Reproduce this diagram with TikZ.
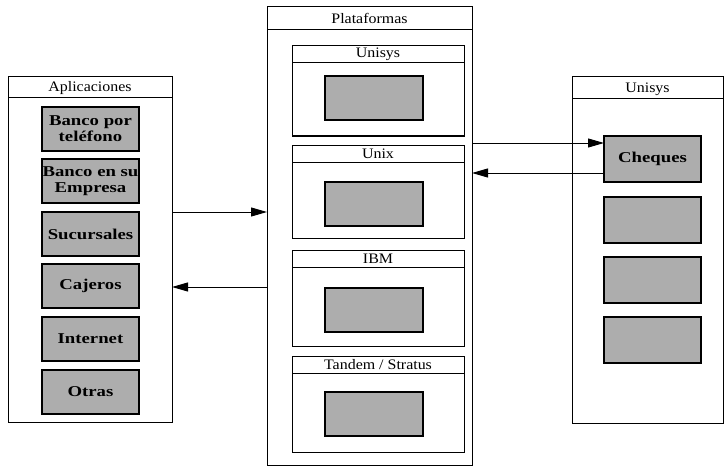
\documentclass[tikz,border=0pt]{standalone}
\usepackage{fontspec}
\setmainfont{Liberation Serif}[FakeStretch=1.1]
\newfontfamily\grayfont{Liberation Serif}[FakeStretch=1.25]
\usetikzlibrary{arrows.meta}
\begin{document}
\begin{tikzpicture}[x=1pt,y=-1pt,
  panel/.style={draw, line width=0.8pt, anchor=north west, inner sep=0pt, outer sep=0pt},
  innerbox/.style={draw, line width=1pt, anchor=north west, inner sep=0pt, outer sep=0pt},
  hdr/.style={line width=1pt},
  graybox/.style={draw, line width=1.5pt, fill=black!32, anchor=north west, inner sep=0pt, outer sep=0pt,
    align=center, font=\grayfont\bfseries\fontsize{15}{16}\selectfont},
  ttl/.style={font=\fontsize{14.5}{16}\selectfont, inner sep=0pt},
  arr/.style={line width=1pt, -{Triangle[length=16pt,width=9pt]}}]
\useasboundingbox (0,0) rectangle (725,468);

% Aplicaciones
\node[panel, minimum width=164pt, minimum height=346pt] (apl) at (8,76) {};
\draw[hdr] ([yshift=-22pt]apl.north west) -- ([yshift=-22pt]apl.north east);
\node[ttl] (aplT) at ([yshift=-12.5pt]apl.north) {Aplicaciones};
\node[graybox, minimum width=97pt, minimum height=44pt] (a1) at (42,107) {Banco por\\teléfono};
\node[graybox, minimum width=97pt, minimum height=44pt] (a2) at (42,159) {Banco en su\\Empresa};
\node[graybox, minimum width=97pt, minimum height=44pt] (a3) at (42,212) {Sucursales};
\node[graybox, minimum width=97pt, minimum height=44pt] (a4) at (42,264) {Cajeros};
\node[graybox, minimum width=97pt, minimum height=44pt] (a5) at (42,317) {Internet};
\node[graybox, minimum width=97pt, minimum height=44pt] (a6) at (42,370) {Otras};

% Plataformas
\node[panel, minimum width=205pt, minimum height=459pt] (plat) at (267,6) {};
\draw[hdr] ([yshift=-24pt]plat.north west) -- ([yshift=-24pt]plat.north east);
\node[ttl] (platT) at ([yshift=-12pt]plat.north) {Plataformas};

\node[innerbox, minimum width=172pt, minimum height=90pt] (pu) at (292,46) {};
\draw[hdr] ([yshift=-17pt]pu.north west) -- ([yshift=-17pt]pu.north east);
\node[ttl] (puT) at ([yshift=-8.5pt]pu.north) {Unisys};
\node[graybox, minimum width=98pt, minimum height=44pt] (pug) at (325,76) {};

\node[innerbox, minimum width=172pt, minimum height=93pt] (px) at (292,145) {};
\draw[hdr] ([yshift=-17pt]px.north west) -- ([yshift=-17pt]px.north east);
\node[ttl] (pxT) at ([yshift=-8.5pt]px.north) {Unix};
\node[graybox, minimum width=98pt, minimum height=44pt] (pxg) at (325,182) {};

\node[innerbox, minimum width=172pt, minimum height=96pt] (pi) at (292,250) {};
\draw[hdr] ([yshift=-17pt]pi.north west) -- ([yshift=-17pt]pi.north east);
\node[ttl] (piT) at ([yshift=-8.5pt]pi.north) {IBM};
\node[graybox, minimum width=98pt, minimum height=44pt] (pig) at (325,288) {};

\node[innerbox, minimum width=172pt, minimum height=96pt] (pt) at (292,356) {};
\draw[hdr] ([yshift=-17pt]pt.north west) -- ([yshift=-17pt]pt.north east);
\node[ttl] (ptT) at ([yshift=-8.5pt]pt.north) {Tandem / Stratus};
\node[graybox, minimum width=98pt, minimum height=44pt] (ptg) at (325,392) {};

% Unisys (right)
\node[panel, minimum width=151pt, minimum height=347pt] (uni) at (572,76) {};
\draw[hdr] ([yshift=-23pt]uni.north west) -- ([yshift=-23pt]uni.north east);
\node[ttl] (uniT) at ([yshift=-13pt]uni.north) {Unisys};
\node[graybox, minimum width=97pt, minimum height=46pt] (cheq) at (604,136) {Cheques};
\node[graybox, minimum width=97pt, minimum height=46pt] (u2) at (604,197) {};
\node[graybox, minimum width=97pt, minimum height=46pt] (u3) at (604,257) {};
\node[graybox, minimum width=97pt, minimum height=46pt] (u4) at (604,317) {};

% connectors
\coordinate (ya) at (0,212);
\coordinate (yb) at (0,287);
\coordinate (yc) at (0,143);
\coordinate (yd) at (0,173);
\draw[arr] (apl.east |- ya) -- (plat.west |- ya);
\draw[arr] (plat.west |- yb) -- (apl.east |- yb);
\draw[arr] (plat.east |- yc) -- (cheq.west |- yc);
\draw[arr] (cheq.west |- yd) -- (plat.east |- yd);
\end{tikzpicture}
\end{document}
